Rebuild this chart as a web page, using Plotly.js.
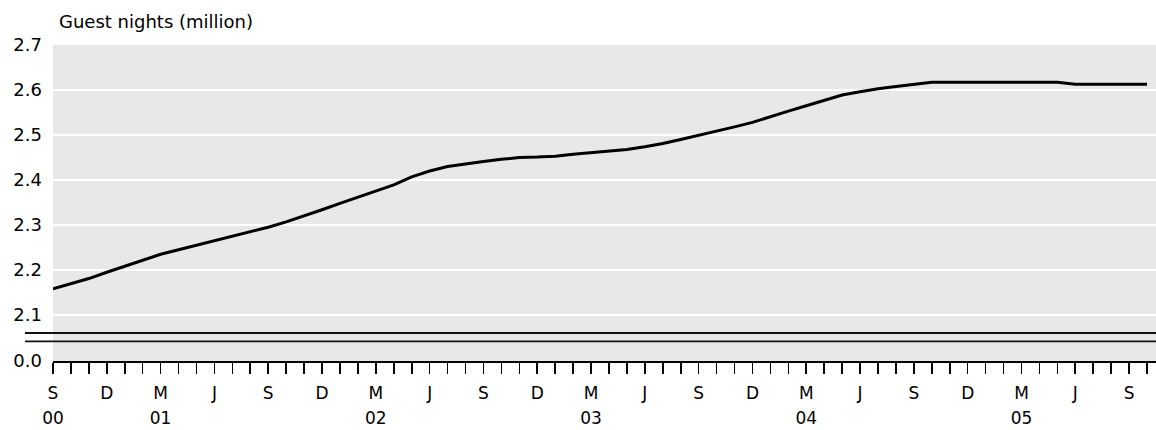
<!DOCTYPE html>
<html>
<head>
<meta charset="utf-8">
<script src="https://cdn.plot.ly/plotly-3.0.1.min.js"></script>
<style>html,body{margin:0;padding:0;background:#fff;}#chart{width:1156px;height:430px;}</style>
</head>
<body>
<div id="chart"></div>
<script>
// Months from Sep 2000 (index 0) to Oct 2005 (index 61)
const monthLetters = ["S","O","N","D","J","F","M","A","M","J","J","A"];
const yearLabels = ["00","01","02","03","04","05"];
const yearTickIdx = [0, 6, 18, 30, 42, 54];
const guestNights = [
  2.158, 2.170, 2.181, 2.195, 2.208, 2.222, 2.235, 2.245, 2.255, 2.265,
  2.274, 2.284, 2.295, 2.307, 2.320, 2.334, 2.348, 2.362, 2.376, 2.389,
  2.407, 2.420, 2.430, 2.436, 2.441, 2.446, 2.450, 2.451, 2.453, 2.457,
  2.461, 2.465, 2.468, 2.474, 2.481, 2.490, 2.499, 2.508, 2.518, 2.528,
  2.541, 2.553, 2.565, 2.577, 2.589, 2.596, 2.603, 2.608, 2.613, 2.617,
  2.617, 2.617, 2.617, 2.617, 2.617, 2.617, 2.617, 2.613, 2.613, 2.613,
  2.613, 2.613
];
const yTickVals = [1.9978, 2.1, 2.2, 2.3, 2.4, 2.5, 2.6, 2.7];
const yTickText = ["0.0", "2.1", "2.2", "2.3", "2.4", "2.5", "2.6", "2.7"];
const breakLevels = [2.060, 2.0413];

const monthIdx = guestNights.map((_, i) => i);
const monthText = monthIdx.map(i => (i % 3 === 0) ? monthLetters[i % 12] : "");

const FONT = "DejaVu Sans, Verdana, sans-serif";

const traces = [
  {
    x: monthIdx, y: guestNights, type: "scatter", mode: "lines",
    line: {color: "#000", width: 3}, xaxis: "x", yaxis: "y",
    hoverinfo: "skip", showlegend: false
  },
  {
    x: [0], y: [null], type: "scatter", mode: "lines",
    xaxis: "x2", yaxis: "y", showlegend: false, hoverinfo: "skip"
  }
];

const shapes = breakLevels.map(v => ({
  type: "line", xref: "paper", yref: "y",
  x0: -0.0254, x1: 1, y0: v, y1: v,
  line: {color: "#111", width: 1.8}
}));

const layout = {
  width: 1156, height: 430,
  margin: {l: 53, r: 0, t: 45, b: 69},
  paper_bgcolor: "#ffffff",
  plot_bgcolor: "#e8e8e8",
  font: {family: FONT, size: 17, color: "#000"},
  showlegend: false,
  xaxis: {
    range: [0, 61.5], tickmode: "array", tickvals: monthIdx, ticktext: monthText,
    ticks: "outside", ticklen: 11, tickwidth: 1.6, tickcolor: "#000",
    showline: true, linecolor: "#000", linewidth: 2,
    showgrid: false, zeroline: false, ticklabelstandoff: 5,
    tickfont: {family: FONT, size: 17, color: "#000"}, fixedrange: true
  },
  xaxis2: {
    overlaying: "x", matches: "x", anchor: "y", side: "bottom",
    range: [0, 61.5], tickmode: "array", tickvals: yearTickIdx, ticktext: yearLabels,
    ticks: "", showline: false, showgrid: false, zeroline: false,
    ticklabelstandoff: 45,
    tickfont: {family: FONT, size: 17, color: "#000"}, fixedrange: true
  },
  yaxis: {
    range: [1.9978, 2.7], tickmode: "array", tickvals: yTickVals, ticktext: yTickText,
    showgrid: true, gridcolor: "#ffffff", gridwidth: 1.6,
    zeroline: false, showline: false, ticks: "",
    ticklabelstandoff: 10,
    tickfont: {family: FONT, size: 18, color: "#000"}, fixedrange: true
  },
  shapes: shapes,
  annotations: [{
    text: "Guest nights (million)", xref: "paper", yref: "paper",
    x: 0.004, y: 1.073, xanchor: "left", yanchor: "middle", showarrow: false,
    font: {family: FONT, size: 18, color: "#000"}
  }]
};

Plotly.newPlot("chart", traces, layout, {displayModeBar: false, staticPlot: true});
</script>
</body>
</html>
